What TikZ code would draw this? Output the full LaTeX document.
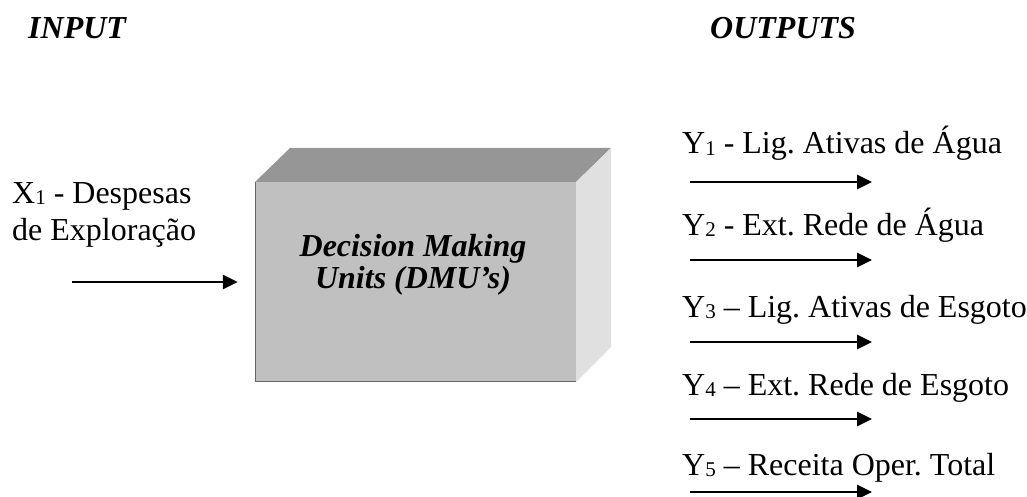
\documentclass[tikz,border=0pt]{standalone}
\usepackage{fontspec}
\setmainfont{Liberation Serif}
\frenchspacing
\usetikzlibrary{arrows.meta}
\definecolor{topgray}{HTML}{969696}
\definecolor{frontgray}{HTML}{C0C0C0}
\definecolor{sidegray}{HTML}{E0E0E0}
\newcommand{\sbs}[1]{\raisebox{-1.5pt}{\fontsize{21}{21}\selectfont #1}}
\tikzset{
  x=1pt, y=-1pt,
  lbl/.style={anchor=base west, inner sep=0pt, font=\fontsize{32}{37}\selectfont},
  title/.style={anchor=base west, inner sep=0pt, font=\fontsize{32}{37}\selectfont\bfseries\itshape},
  flow/.style={line width=2.6pt, -{Triangle[length=15pt,width=14pt]}},
}
\begin{document}
\begin{tikzpicture}
\useasboundingbox (0,0) rectangle (1027,497);
% titles
\node[title] (tin) at (28,39) {INPUT};
\node[title] (tout) at (710,39) {OUTPUTS};
% box
\fill[topgray] (255,182) -- (290,148) -- (611,148) -- (576,182) -- cycle;
\fill[sidegray] (576,182) -- (611,148) -- (611,347) -- (576,382) -- cycle;
\node[fill=frontgray, inner sep=0pt, minimum width=321pt, minimum height=200pt] (dmu) at (415.5,282) {};
\draw[gray!80!black, line width=1pt] (255.5,182) -- (255.5,381.5) -- (576,381.5);
\node[align=center, inner sep=0pt, font=\fontsize{32}{32}\selectfont\bfseries\itshape] (dmutxt) at (413,265) {Decision Making\\Units (DMU’s)};
% input
\node[lbl] (x1a) at (12,203) {X\sbs{1} - Despesas};
\node[lbl] (x1b) at (12,240) {de Exploração};
\coordinate (in) at (72,282);
\draw[flow] (in) -- ([xshift=-17pt]dmu.west);
% outputs
\node[lbl] (y1) at (682,154) {Y\sbs{1} - Lig. Ativas de Água};
\node[lbl] (y2) at (682,235) {Y\sbs{2} - Ext. Rede de Água};
\node[lbl] (y3) at (682,317) {Y\sbs{3} – Lig. Ativas de Esgoto};
\node[lbl] (y4) at (682,395) {Y\sbs{4} – Ext. Rede de Esgoto};
\node[lbl] (y5) at (682,475) {Y\sbs{5} – Receita Oper. Total};
\foreach \i/\yy in {1/182,2/260,3/342,4/419,5/492}{
  \coordinate (o\i s) at (690,\yy);
  \coordinate (o\i e) at (872,\yy);
  \draw[flow] (o\i s) -- (o\i e);
}
\end{tikzpicture}
\end{document}
